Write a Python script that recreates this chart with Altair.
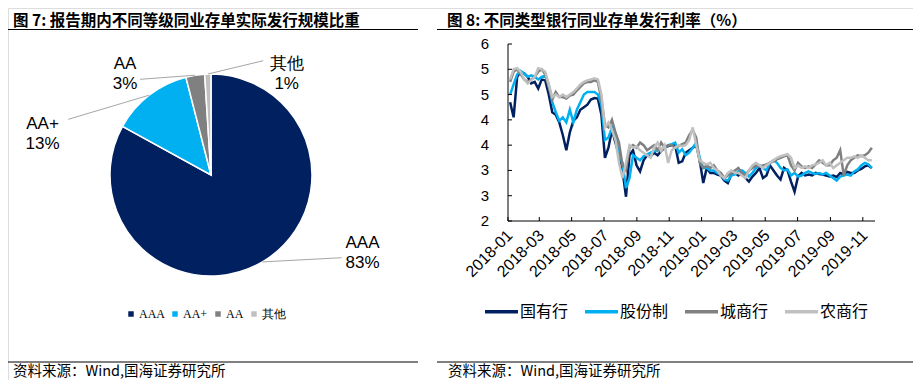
import math
import altair as alt
import pandas as pd

# ---------------- data ----------------
TITLE_L = "图 7: 报告期内不同等级同业存单实际发行规模比重"
TITLE_R = "图 8: 不同类型银行同业存单发行利率（%）"
SOURCE = "资料来源：Wind,国海证券研究所"

PIE_CATS = ["AAA", "AA+", "AA", "其他"]
PIE_PCTS = [83, 13, 3, 1]
PIE_COLORS = ["#002060", "#00b0f0", "#808080", "#c0c0c0"]

SERIES = ["国有行", "股份制", "城商行", "农商行"]
LINE_COLORS = ["#002060", "#00b0f0", "#808080", "#c0c0c0"]

DATE_START = "2018-01-05"
DATE_END = "2019-11-18"

GUOYOU = [4.35, 4.05, 4.85, 4.95, 4.92, 4.85, 4.72, 4.75, 4.62, 4.8,
          4.78, 4.5, 4.15, 4.1, 3.95, 3.7, 3.4, 3.75, 3.98, 4.05,
          4.2, 4.25, 4.3, 4.4, 4.43, 4.42, 4.1, 3.25, 3.45, 3.8,
          3.55, 3.3, 3.0, 2.48, 3.3, 3.4, 3.1, 2.98, 3.2, 3.3,
          3.28, 3.35, 3.3, 3.38, 3.45, 3.48, 3.5, 3.5, 3.15, 3.18,
          3.35, 3.4, 3.45, 3.5, 3.2, 2.75, 3.05, 2.95, 2.95, 2.92,
          2.9, 2.8, 2.75, 2.92, 2.95, 2.9, 2.95, 2.85, 2.78, 2.88,
          2.95, 3.05, 2.85, 2.9, 3.1, 3.0, 2.9, 2.82, 3.05, 3.0,
          2.78, 2.58, 2.88, 2.95, 2.9, 2.92, 2.9, 2.95, 2.93, 2.92,
          2.9, 2.88, 2.9, 2.87, 2.95, 2.92, 2.97, 2.95, 2.95, 3.0,
          3.03, 3.08, 3.1, 3.05]
GUFEN = [4.5, 4.7, 4.9, 4.97, 4.92, 4.85, 4.88, 4.85, 4.8, 4.85,
         4.88, 4.7, 4.35, 4.15, 3.98, 4.05, 3.95, 4.2, 3.95, 4.2,
         4.35, 4.5, 4.55, 4.55, 4.55, 4.5, 4.3, 3.6, 3.65, 3.85,
         3.7, 3.3, 3.15, 2.65, 2.85, 3.3, 3.25, 3.2, 3.28, 3.32,
         3.35, 3.38, 3.4, 3.42, 3.45, 3.5, 3.52, 3.55, 3.35, 3.42,
         3.3, 3.35, 3.45, 3.55, 3.25, 3.05, 3.05, 3.0, 3.0, 2.95,
         2.92, 2.82, 2.8, 2.9, 2.92, 2.98, 3.0, 2.95, 2.88, 2.95,
         3.05, 3.1, 3.05, 3.0, 3.15, 3.2, 3.15, 3.05, 3.0, 3.02,
         2.9, 2.95, 2.88, 2.9, 2.95, 2.98, 2.95, 2.93, 2.95, 2.92,
         2.95, 2.9, 2.85, 2.8, 2.88, 2.9, 2.92, 2.9, 2.98, 3.02,
         3.1, 3.15, 3.12, 3.05]
CHENGSHANG = [4.75, 4.95, 5.0, 4.9, 4.8, 4.75, 4.8, 4.85, 4.95, 5.0,
              4.9, 4.65, 4.4, 4.55, 4.45, 4.45, 4.42, 4.48, 4.5, 4.58,
              4.65, 4.72, 4.75, 4.75, 4.78, 4.75, 4.4, 3.9, 3.85, 4.0,
              3.75, 3.55, 3.1, 3.0, 3.45, 3.5, 3.45, 3.55, 3.5, 3.4,
              3.45, 3.5, 3.4, 3.55, 3.45, 3.5, 3.5, 3.45, 3.48, 3.52,
              3.55, 3.7, 3.8, 3.65, 3.15, 3.05, 3.1, 3.05, 3.1, 3.0,
              2.95, 2.85, 2.9, 2.95, 3.0, 3.05, 2.95, 2.9, 3.0, 3.05,
              3.1, 3.08, 3.1, 3.12, 3.15, 3.18, 3.22, 3.25, 3.28, 3.3,
              3.1, 3.0, 3.15, 3.08, 3.05, 3.08, 3.05, 3.12, 3.2, 3.15,
              3.1, 3.1, 3.2, 3.25, 3.4, 2.9, 3.1, 3.2, 3.25, 3.3,
              3.28, 3.3, 3.35, 3.45]
NONGSHANG = [4.8, 5.0, 5.02, 4.95, 4.8, 4.72, 4.78, 4.85, 5.02, 5.0,
             4.95, 4.7, 4.45, 4.5, 4.45, 4.5, 4.45, 4.5, 4.55, 4.62,
             4.7, 4.75, 4.78, 4.8, 4.82, 4.8, 4.5, 3.85, 3.95, 3.8,
             3.6, 3.15, 2.85, 3.15, 3.5, 3.45, 3.48, 3.4, 3.35, 3.3,
             3.25, 3.45, 3.55, 3.38, 3.5, 3.15, 3.4, 3.45, 3.5, 3.48,
             3.5, 3.6, 3.85, 3.5, 3.2, 3.15, 3.12, 3.15, 3.05, 3.0,
             2.9, 2.85, 2.95, 3.0, 2.95, 2.95, 2.9, 2.85, 3.0, 3.1,
             3.15, 3.1, 3.05, 3.1, 3.15, 3.2, 3.25, 3.28, 3.3, 3.32,
             3.25, 3.05, 3.1, 3.05, 3.08, 3.05, 3.1, 3.12, 3.15, 3.2,
             3.1, 3.15, 3.05, 3.1, 3.15, 3.2, 3.25, 3.25, 3.28, 3.25,
             3.3, 3.25, 3.2, 3.2]

Y_TICKS = [2.0, 2.5, 3.0, 3.5, 4.0, 4.5, 5.0, 5.5]
X_TICKS = ["2018/01/01", "2018/03/01", "2018/05/01", "2018/07/01", "2018/09/01",
           "2018/11/01", "2019/01/01", "2019/03/01", "2019/05/01", "2019/07/01",
           "2019/09/01", "2019/11/01"]

# ---------------- layout (canvas pixels) ----------------
W, H = 905, 372
CX, CY, R = 203, 167, 101
PX0, PX1, PY_TOP, PY_BOT = 500, 867, 36, 213
# label centre (x, y) and leader end (x, y) per pie slice
PIE_LABEL_LAYOUT = [(354.5, 235, 333.7, 249.7),
                    (34.5, 116, 60.3, 111.3),
                    (117, 56, 132, 71.3),
                    (278.7, 56, 255.3, 52.7)]
FONT = "Liberation Sans"
CJK = "Noto Sans CJK SC"

series_vals = [GUOYOU, GUFEN, CHENGSHANG, NONGSHANG]
for s in series_vals:
    assert len(s) == 104
dates = pd.date_range(DATE_START, DATE_END, periods=104).strftime("%Y/%m/%d %H:%M")
rows = []
for si, (name, vals) in enumerate(zip(SERIES, series_vals)):
    for d, v in zip(dates, vals):
        rows.append({"date": d, "series": name, "rate": v, "k": si})
line_df = pd.DataFrame(rows)

X_SCALE = alt.Scale(domain=[alt.DateTime(year=2018, month=1, date=1),
                            alt.DateTime(year=2019, month=11, date=24)],
                    range=[PX0, PX1])
Y_SCALE = alt.Scale(domain=[2, 5.5], range=[PY_BOT, PY_TOP])

one = alt.Data(values=[{}])
layers = []


def rule(x, y, x2, y2, color="black", w=1.0):
    return alt.Chart(one).mark_rule(color=color, strokeWidth=w).encode(
        x=alt.value(x), y=alt.value(y), x2=alt.value(x2), y2=alt.value(y2))


def label(x, y, text, size=14, font=FONT, weight="normal", align="left",
          baseline="middle", lh=None):
    kw = dict(align=align, baseline=baseline, fontSize=size, font=font,
              fontWeight=weight, color="black")
    if lh:
        kw["lineHeight"] = lh
    return alt.Chart(one).mark_text(**kw).encode(
        x=alt.value(x), y=alt.value(y), text=alt.value(text))


# titles, separator lines, sources
layers += [
    label(5, 18, TITLE_L, size=15.5, font=CJK, weight="bold", baseline="alphabetic"),
    label(439, 18, TITLE_R, size=15.5, font=CJK, weight="bold", baseline="alphabetic"),
    rule(0, 21.5, 410, 21.5),
    rule(429, 21.5, 905, 21.5),
    rule(0, 354, 410, 354),
    rule(429, 354, 905, 354),
    label(5, 368, SOURCE, size=14.5, font=CJK, baseline="alphabetic"),
    label(440, 368, SOURCE, size=14.5, font=CJK, baseline="alphabetic"),
]

# ---------------- pie ----------------
pie_df = pd.DataFrame({"cat": PIE_CATS, "pct": PIE_PCTS, "idx": range(len(PIE_CATS))})
pie = alt.Chart(pie_df).mark_arc(radius=R, stroke="white", strokeWidth=1.5).encode(
    theta=alt.Theta("pct:Q", stack=True),
    order=alt.Order("idx:Q", sort="ascending"),
    color=alt.Color("cat:N", sort=PIE_CATS,
                    scale=alt.Scale(domain=PIE_CATS, range=PIE_COLORS),
                    legend=alt.Legend(orient="none", legendX=117, legendY=300,
                                      direction="horizontal", title=None,
                                      symbolType="square", symbolSize=30,
                                      symbolStrokeWidth=0, labelFont="Liberation Serif",
                                      labelFontSize=12, labelColor="black",
                                      labelOffset=2, columnPadding=4, padding=0)),
    x=alt.value(CX), y=alt.value(CY))
layers.append(pie)

total = sum(PIE_PCTS)
cum = 0
for cat, pct, (lx, ly, ex, ey) in zip(PIE_CATS, PIE_PCTS, PIE_LABEL_LAYOUT):
    mid = (cum + pct / 2) / total * 2 * math.pi
    cum += pct
    sx = CX + R * math.sin(mid)
    sy = CY - R * math.cos(mid)
    layers.append(rule(sx, sy, ex, ey, color="#a6a6a6", w=1))
    layers.append(label(lx, ly, [cat, f"{pct}%"], size=17, align="center", lh=19.5))

# ---------------- line chart ----------------
lines = alt.Chart(line_df).mark_line(strokeWidth=2.5).encode(
    x=alt.X("date:T", scale=X_SCALE, axis=None),
    y=alt.Y("rate:Q", scale=Y_SCALE, axis=None),
    order=alt.Order("date:T"),
    color=alt.Color("series:N", sort=SERIES,
                    scale=alt.Scale(domain=SERIES, range=LINE_COLORS),
                    legend=alt.Legend(orient="none", legendX=475, legendY=285,
                                      direction="horizontal", title=None,
                                      symbolType="stroke", symbolSize=1089,
                                      symbolStrokeWidth=3.5, labelFont=CJK,
                                      labelFontSize=16, labelColor="black",
                                      labelOffset=0, columnPadding=9, padding=0)))
layers.append(lines)

# axes (drawn inward ticks)
layers.append(rule(PX0, PY_TOP, PX0, PY_BOT))
layers.append(rule(PX0, PY_BOT, PX1, PY_BOT))
ydf = pd.DataFrame({"v": Y_TICKS, "lab": [str(int(math.floor(v + 0.5))) for v in Y_TICKS]})
layers.append(alt.Chart(ydf).mark_rule(color="black").encode(
    y=alt.Y("v:Q", scale=Y_SCALE, axis=None), x=alt.value(PX0), x2=alt.value(PX0 + 4)))
layers.append(alt.Chart(ydf).mark_text(align="right", baseline="middle", fontSize=15,
                                       font=FONT, color="black").encode(
    y=alt.Y("v:Q", scale=Y_SCALE, axis=None), x=alt.value(PX0 - 19), text="lab:N"))
xdf = pd.DataFrame({"d": X_TICKS})
layers.append(alt.Chart(xdf).mark_rule(color="black").encode(
    x=alt.X("d:T", scale=X_SCALE, axis=None), y=alt.value(PY_BOT), y2=alt.value(PY_BOT - 4)))
layers.append(alt.Chart(xdf).mark_text(align="right", baseline="middle", angle=315,
                                       fontSize=16, font=FONT, color="black", dx=3).encode(
    x=alt.X("d:T", scale=X_SCALE, axis=None), y=alt.value(PY_BOT + 14),
    text=alt.Text("d:T", format="%Y-%m")))

chart = alt.layer(*layers).resolve_scale(color="independent").resolve_legend(
    color="independent").properties(
    width=W, height=H, padding=0,
    autosize=alt.AutoSizeParams(type="none")).configure_view(stroke=None).configure(
    font=FONT)

chart.save("out.html", embed_options={"renderer": "svg", "actions": False})
